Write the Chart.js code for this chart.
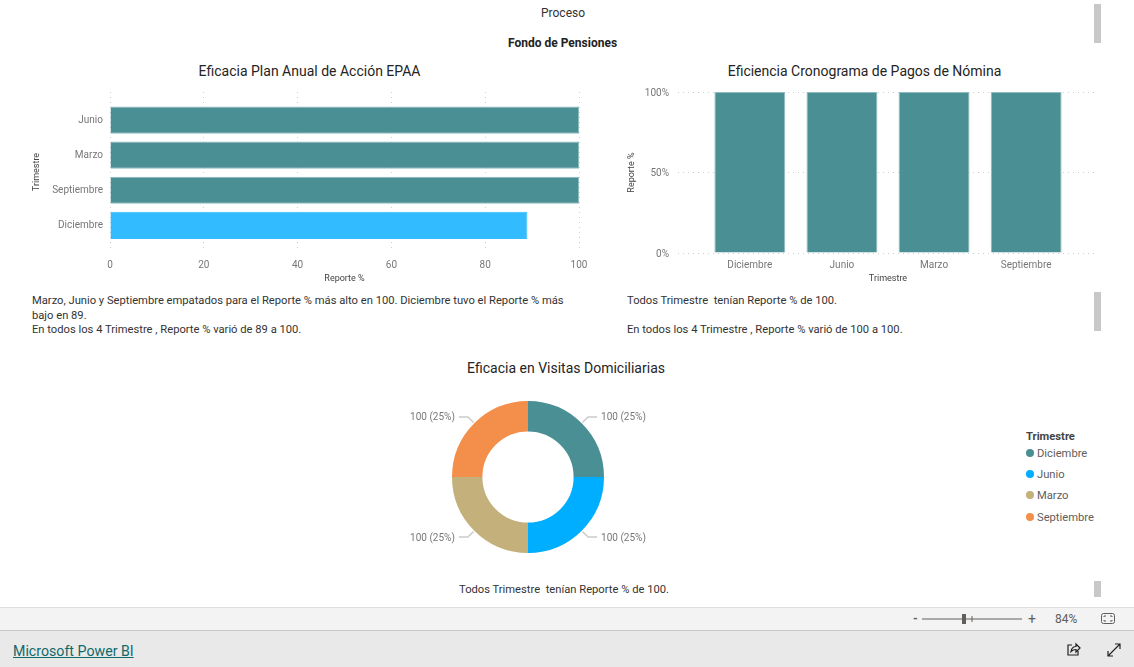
<!DOCTYPE html>
<html lang="es">
<head>
<meta charset="utf-8">
<title>Proceso</title>
<script src="https://cdn.jsdelivr.net/npm/chart.js@4"></script>
<style>
  html, body { margin: 0; padding: 0; background: #fff; overflow: hidden; }
  body { width: 1134px; height: 667px; position: relative; font-family: Roboto, sans-serif; color: #333; }
  canvas { position: absolute; }
  .txt { position: absolute; white-space: pre; font-size: 11.2px; line-height: 14.5px; color: #333; }
  .ctitle { position: absolute; white-space: pre; font-family: Roboto, sans-serif; font-size: 14px; line-height: 18px; color: #252423; transform: translateX(-50%); }
  .scroll { position: absolute; left: 1094px; width: 7px; background: #c8c8c8; }
  #legend { position: absolute; left: 1026px; top: 429px; font-size: 11.2px; color: #605e5c; }
  #legend b { display: block; height: 16px; line-height: 15px; color: #444; font-weight: 700; }
  #legend div { height: 21.2px; line-height: 18px; white-space: pre; }
  #legend i { display: inline-block; width: 8px; height: 8px; border-radius: 50%; margin-right: 3px; }
  #zoombar { position: absolute; left: 0; top: 607px; width: 1134px; height: 22px; background: #f3f3f3; border-top: 1px solid #dedede; border-bottom: 1px solid #c8c8c8; }
  #footer { position: absolute; left: 0; top: 631px; width: 1134px; height: 36px; background: #e9e9e9; }
  #footer a { position: absolute; left: 13px; top: 10px; font-size: 14.2px; line-height: 20px; color: #0f6a6c; text-decoration: underline; }
  .zt { position: absolute; font-size: 12px; line-height: 16px; color: #605e5c; }
  svg { position: absolute; }
</style>
</head>
<body>
<div class="txt" style="left:541px;top:6px;font-size:12px">Proceso</div>
<div class="txt" style="left:508px;top:36px;font-size:12px;font-weight:700;color:#222">Fondo de Pensiones</div>

<div class="ctitle" style="left:309.5px;top:62px">Eficacia Plan Anual de Acción EPAA</div>
<div class="ctitle" style="left:864.5px;top:62px">Eficiencia Cronograma de Pagos de Nómina</div>
<div class="ctitle" style="left:566px;top:359px">Eficacia en Visitas Domiciliarias</div>

<canvas id="chartEpaa" width="559" height="205" style="left:30px;top:85px"></canvas>
<canvas id="chartNomina" width="484" height="205" style="left:622px;top:85px"></canvas>
<canvas id="chartVisitas" width="300" height="152" style="left:378px;top:401px"></canvas>

<div class="txt" style="left:32px;top:294px">Marzo, Junio y Septiembre empatados para el Reporte % más alto en 100. Diciembre tuvo el Reporte % más
bajo en 89.
En todos los 4 Trimestre , Reporte % varió de 89 a 100.</div>
<div class="txt" style="left:627px;top:294px">Todos Trimestre  tenían Reporte % de 100.

En todos los 4 Trimestre , Reporte % varió de 100 a 100.</div>
<div class="txt" style="left:459px;top:583px">Todos Trimestre  tenían Reporte % de 100.</div>

<div id="legend"></div>

<div class="scroll" style="top:4px;height:39px"></div>
<div class="scroll" style="top:292px;height:39px"></div>
<div class="scroll" style="top:581px;height:16px"></div>

<div id="zoombar"></div>
<div id="footer"><a href="#">Microsoft Power BI</a></div>
<div class="zt" style="left:913px;top:611px;font-weight:700">-</div>
<div class="zt" style="left:1028px;top:611px;font-size:14px">+</div>
<div class="zt" style="left:1055px;top:611px">84%</div>
<svg style="left:920px;top:612px" width="104" height="14">
  <line x1="2" y1="7" x2="102" y2="7" stroke="#605e5c"/>
  <rect x="42" y="2" width="4" height="10" fill="#605e5c"/>
  <line x1="52" y1="4" x2="52" y2="10" stroke="#605e5c"/>
</svg>
<svg style="left:1100px;top:612px" width="16" height="14" fill="none" stroke="#605e5c">
  <rect x="1.5" y="1.5" width="13" height="10" rx="2"/>
  <path d="M4 5V4h2M12 5V4h-2M4 8v1h2M12 8v1h-2"/>
</svg>
<svg style="left:1066px;top:642px" width="16" height="16" fill="none" stroke="#222" stroke-width="1.2">
  <path d="M6 3H2v10h10V9"/>
  <path d="M14 6 10 2v2.500C7 4.500 5.500 6.500 5 9.500 6.500 8 8 7.500 10 7.500V10z"/>
</svg>
<svg style="left:1106px;top:642px" width="16" height="16" fill="none" stroke="#222" stroke-width="1.2">
  <path d="M2 14 14 2M9 2h5v5M2 9v5h5"/>
</svg>

<script>
const epaaLabels = ['Junio', 'Marzo', 'Septiembre', 'Diciembre'];
const epaaValues = [100, 100, 100, 89];
const nominaLabels = ['Diciembre', 'Junio', 'Marzo', 'Septiembre'];
const nominaValues = [100, 100, 100, 100];
const visitasLabels = ['Diciembre', 'Junio', 'Marzo', 'Septiembre'];
const visitasValues = [100, 100, 100, 100];
const visitasShare = ['100 (25%)', '100 (25%)', '100 (25%)', '100 (25%)'];
const epaaTicks = [0, 20, 40, 60, 80, 100];
const nominaTicks = [0, 50, 100];

const TEAL = '#4a8f94';
const TEAL_EDGE = '#8fbcbe';
const epaaColors = [TEAL, TEAL, TEAL, '#33bbff'];
const epaaEdges = [TEAL_EDGE, TEAL_EDGE, TEAL_EDGE, '#33bbff'];
const visitasColors = [TEAL, '#00aeff', '#c4b07b', '#f38f4a'];

const tickFont = { family: 'Roboto, sans-serif', size: 10 };
const titleFont = { family: 'Roboto, sans-serif', size: 9 };
const tickColor = '#777';
const axisTitleColor = '#444';
const gridColor = '#cfcfcf';
const gridDash = [1, 4];

Chart.defaults.animation = false;
Chart.defaults.responsive = false;
Chart.defaults.plugins.legend.display = false;
Chart.defaults.plugins.tooltip.enabled = false;

// eje de categorias como escala lineal para dejar el margen interior del visual
const indexRange = { min: -0.78, max: 3.78, offset: false };
const epaaRange = { min: -0.8, max: 3.76, offset: false };

// tamano fijo del eje, sin la sangria que Chart.js deja para la media etiqueta
function noInset(s) { s.paddingTop = s.paddingBottom = s.paddingLeft = s.paddingRight = 0; }
function fixedHeight(h) { return s => { s.height = h; noInset(s); }; }
function fixedWidth(w) { return s => { s.width = w; noInset(s); }; }

new Chart(document.getElementById('chartEpaa'), {
  type: 'bar',
  data: {
    datasets: [{
      data: epaaValues.map((v, i) => ({ x: v, y: i })),
      backgroundColor: epaaColors,
      borderColor: epaaEdges,
      borderWidth: 1,
      categoryPercentage: 1,
      barPercentage: 0.775
    }]
  },
  options: {
    indexAxis: 'y',
    layout: { autoPadding: false, padding: { top: 7, right: 10, bottom: 6, left: 1 } },
    scales: {
      x: {
        type: 'linear', min: 0, max: 100,
        afterBuildTicks: s => { s.ticks = epaaTicks.map(v => ({ value: v })); },
        afterFit: fixedHeight(32),
        border: { display: false, dash: gridDash },
        grid: { color: gridColor, drawTicks: false },
        ticks: { font: tickFont, color: tickColor, maxRotation: 0, padding: 7 },
        title: { display: true, text: 'Reporte %', font: titleFont, color: axisTitleColor, padding: 0 }
      },
      y: {
        type: 'linear', reverse: true, ...epaaRange,
        afterBuildTicks: s => { s.ticks = epaaLabels.map((_, i) => ({ value: i })); },
        afterFit: fixedWidth(79),
        border: { display: false },
        grid: { display: false, drawTicks: false },
        ticks: { font: tickFont, color: tickColor, padding: 7, callback: v => epaaLabels[v] },
        title: { display: true, text: 'Trimestre', font: titleFont, color: axisTitleColor, padding: 0 }
      }
    }
  }
});

new Chart(document.getElementById('chartNomina'), {
  type: 'bar',
  data: {
    datasets: [{
      data: nominaValues.map((v, i) => ({ x: i, y: v })),
      backgroundColor: TEAL,
      borderColor: TEAL_EDGE,
      borderWidth: 1,
      categoryPercentage: 1,
      barPercentage: 0.77
    }]
  },
  options: {
    layout: { autoPadding: false, padding: { top: 7, right: 8, bottom: 6, left: 4 } },
    scales: {
      x: {
        type: 'linear', ...indexRange,
        afterBuildTicks: s => { s.ticks = nominaLabels.map((_, i) => ({ value: i })); },
        afterFit: fixedHeight(31),
        border: { display: false },
        grid: { display: false, drawTicks: false },
        ticks: { font: tickFont, color: tickColor, maxRotation: 0, padding: 6, callback: v => nominaLabels[v] },
        title: { display: true, text: 'Trimestre', font: titleFont, color: axisTitleColor, padding: 0 }
      },
      y: {
        type: 'linear', min: 0, max: 100,
        afterBuildTicks: s => { s.ticks = nominaTicks.map(v => ({ value: v })); },
        afterFit: fixedWidth(52),
        border: { display: false, dash: gridDash },
        grid: { color: gridColor, drawTicks: false },
        ticks: { font: tickFont, color: tickColor, padding: 9, labelOffset: 1, callback: v => v + '%' },
        title: { display: true, text: 'Reporte %', font: titleFont, color: axisTitleColor, padding: 0 }
      }
    }
  }
});

// etiquetas de detalle con linea guia, como en Power BI
const leaderLabels = {
  id: 'leaderLabels',
  afterDatasetsDraw(chart) {
    const { ctx } = chart;
    chart.getDatasetMeta(0).data.forEach((arc, i) => {
      const mid = (arc.startAngle + arc.endAngle) / 2;
      const side = Math.cos(mid) >= 0 ? 1 : -1;
      const x0 = arc.x + Math.cos(mid) * (arc.outerRadius + 1);
      const y0 = arc.y + Math.sin(mid) * (arc.outerRadius + 1);
      const x1 = arc.x + Math.cos(mid) * (arc.outerRadius + 9);
      const y1 = arc.y + Math.sin(mid) * (arc.outerRadius + 9);
      const x2 = x1 + side * 9;
      ctx.save();
      ctx.strokeStyle = '#cccccc';
      ctx.lineWidth = 1.5;
      ctx.beginPath();
      ctx.moveTo(x0, y0);
      ctx.lineTo(x1, y1);
      ctx.lineTo(x2, y1);
      ctx.stroke();
      ctx.font = '10px Roboto, sans-serif';
      ctx.fillStyle = '#777';
      ctx.textBaseline = 'middle';
      ctx.textAlign = side > 0 ? 'left' : 'right';
      ctx.fillText(visitasShare[i], x2 + side * 4, y1 + 1);
      ctx.restore();
    });
  }
};

new Chart(document.getElementById('chartVisitas'), {
  type: 'doughnut',
  data: {
    labels: visitasLabels,
    datasets: [{ data: visitasValues, backgroundColor: visitasColors, borderWidth: 0 }]
  },
  options: { cutout: '60%' },
  plugins: [leaderLabels]
});

// leyenda en HTML a partir de los mismos arreglos
const legend = document.getElementById('legend');
legend.innerHTML = '<b>Trimestre</b>' + visitasLabels.map((l, i) =>
  `<div><i style="background:${visitasColors[i]}"></i>${l}</div>`).join('');
</script>
</body>
</html>
